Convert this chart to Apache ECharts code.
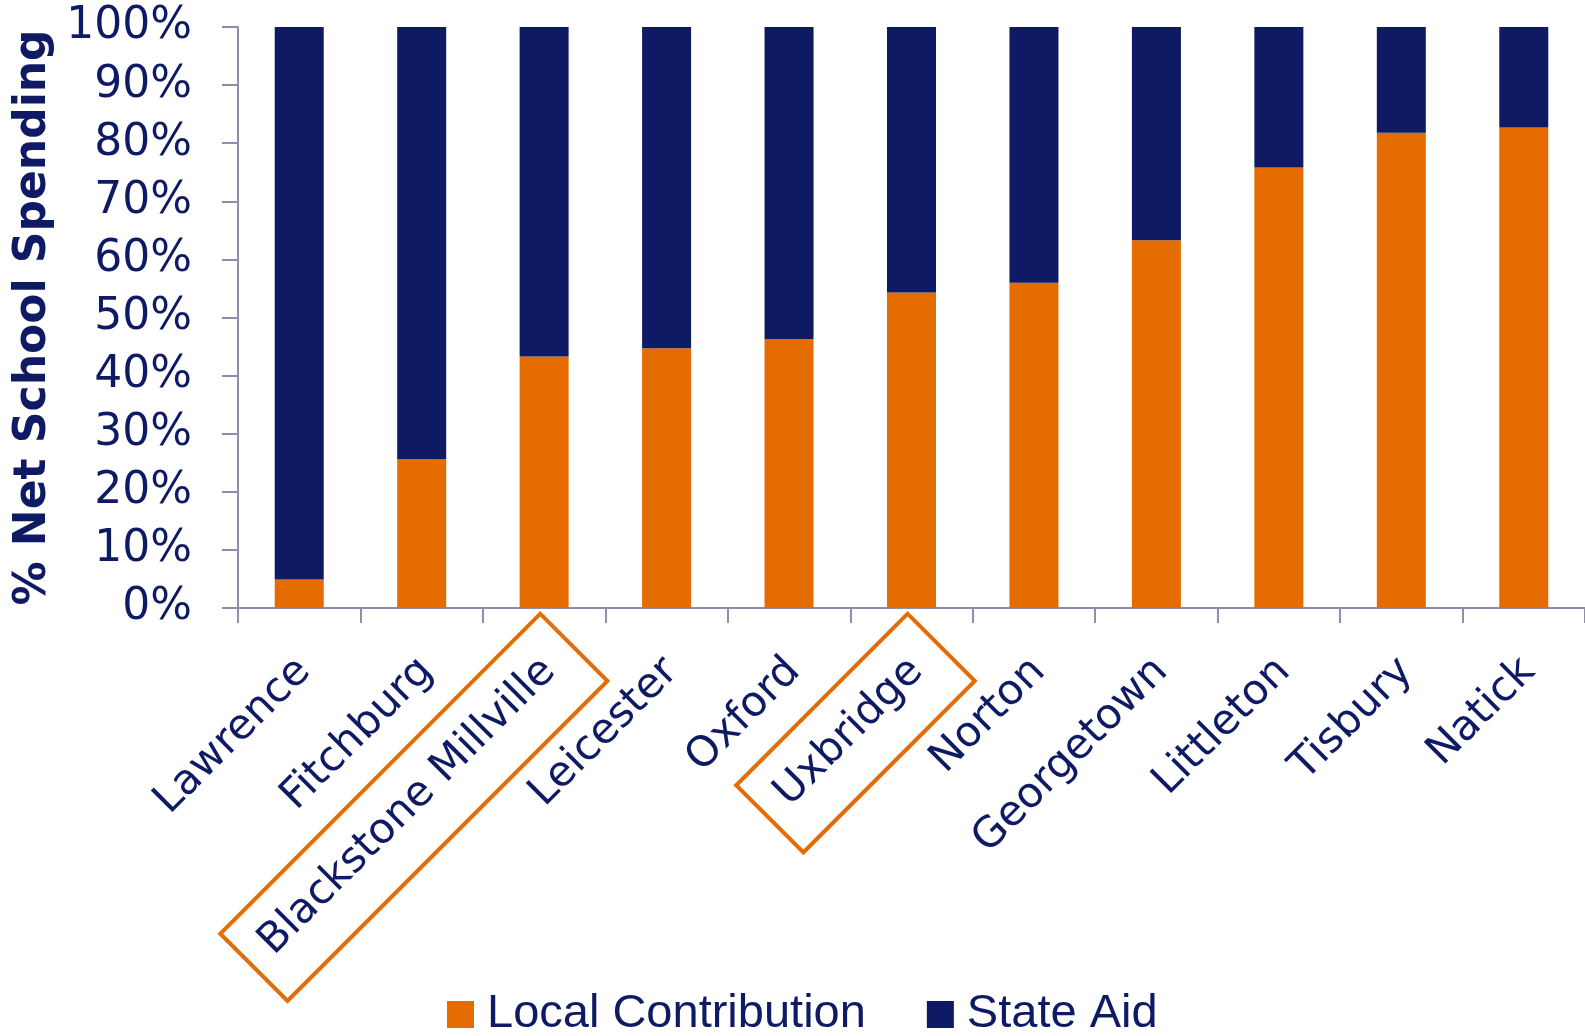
<!DOCTYPE html>
<html>
<head>
<meta charset="utf-8">
<title>% Net School Spending</title>
<script src="https://cdn.jsdelivr.net/npm/echarts@6/dist/echarts.min.js"></script>
<style>
  html, body { margin: 0; padding: 0; background: #ffffff; }
  #chart { width: 1585px; height: 1036px; }
</style>
</head>
<body>
<div id="chart"></div>
<script>
// Districts, ordered by local share of net school spending
const categories = ['Lawrence', 'Fitchburg', 'Blackstone Millville', 'Leicester', 'Oxford',
  'Uxbridge', 'Norton', 'Georgetown', 'Littleton', 'Tisbury', 'Natick'];
const localContribution = [4.9, 25.6, 43.3, 44.7, 46.3, 54.3, 56.0, 63.3, 75.8, 81.8, 82.7];
const stateAid = [95.1, 74.4, 56.7, 55.3, 53.7, 45.7, 44.0, 36.7, 24.2, 18.2, 17.3];
const yTicks = [0, 10, 20, 30, 40, 50, 60, 70, 80, 90, 100];
// Districts whose labels are boxed
const highlighted = ['Blackstone Millville', 'Uxbridge'];

const NAVY = '#0e1a64';
const ORANGE = '#e46c00';
const AXIS = '#8e8ea8';
const LABEL_FONT = 42;
const LABEL_FAMILY = '"DejaVu Sans", Verdana, sans-serif';
const LABEL_MARGIN = 62;
const LABEL_SHIFT = 7;   // label nudged forward along its rotated direction

const chart = echarts.init(document.getElementById('chart'), null, { renderer: 'canvas' });

const option = {
  backgroundColor: '#ffffff',
  animation: false,
  grid: { left: 238, top: 27, width: 1348, height: 581, containLabel: false },
  legend: {
    left: 447,
    top: 991,
    padding: 0,
    icon: 'rect',
    itemWidth: 27,
    itemHeight: 27,
    itemGap: 61,
    textStyle: {
      color: NAVY,
      fontSize: 47,
      fontFamily: '"Liberation Sans", Arial, sans-serif',
      padding: [0, 0, 0, 8]
    },
    data: ['Local Contribution', 'State Aid']
  },
  xAxis: {
    type: 'category',
    data: categories,
    boundaryGap: true,
    axisLine: { show: true, lineStyle: { color: AXIS, width: 2 } },
    axisTick: { show: true, length: 15, lineStyle: { color: AXIS, width: 2 } },
    axisLabel: {
      interval: 0,
      rotate: 45,
      margin: LABEL_MARGIN,
      padding: [0, -LABEL_SHIFT, 0, 0],
      color: NAVY,
      fontSize: LABEL_FONT,
      fontFamily: LABEL_FAMILY
    },
    splitLine: { show: false }
  },
  yAxis: {
    type: 'value',
    min: yTicks[0],
    max: yTicks[yTicks.length - 1],
    interval: yTicks[1] - yTicks[0],
    name: '% Net School Spending',
    nameLocation: 'middle',
    nameGap: 174,
    nameTextStyle: {
      color: NAVY,
      fontSize: 44,
      fontWeight: 'bold',
      fontFamily: LABEL_FAMILY
    },
    axisLine: { show: true, lineStyle: { color: AXIS, width: 2 } },
    axisTick: { show: true, length: 16, lineStyle: { color: AXIS, width: 2 } },
    axisLabel: {
      margin: 46,
      color: NAVY,
      fontSize: 44,
      fontFamily: LABEL_FAMILY,
      formatter: '{value}%'
    },
    splitLine: { show: false }
  },
  series: [
    {
      name: 'Local Contribution',
      type: 'bar',
      stack: 'total',
      barWidth: 49,
      itemStyle: { color: ORANGE },
      data: localContribution
    },
    {
      name: 'State Aid',
      type: 'bar',
      stack: 'total',
      barWidth: 49,
      itemStyle: { color: NAVY },
      data: stateAid
    }
  ]
};

chart.setOption(option);

// Outline boxes around selected rotated category labels
function drawLabelBoxes() {
  const ctx = document.createElement('canvas').getContext('2d');
  ctx.font = LABEL_FONT + 'px ' + LABEL_FAMILY;
  const axisY = chart.convertToPixel({ yAxisIndex: 0 }, 0);
  const ang = Math.PI / 4;
  const ux = Math.cos(ang), uy = -Math.sin(ang);   // along the label
  const vx = Math.sin(ang), vy = Math.cos(ang);    // across the label, downward
  const pad = 26;
  const boxH = 95;
  const across = 5;
  const elements = highlighted.map(function (name) {
    const cx = chart.convertToPixel({ xAxisIndex: 0 }, name);
    const L = ctx.measureText(name).width;
    // the label ends at its anchor and runs back along the rotated direction
    const ex = cx + ux * LABEL_SHIFT, ey = axisY + LABEL_MARGIN + uy * LABEL_SHIFT;
    const along = L / 2 - 4;
    const bx = ex - ux * along + vx * across;
    const by = ey - uy * along + vy * across;
    const W = L + 2 * pad;
    return {
      type: 'rect',
      x: bx,
      y: by,
      rotation: ang,
      shape: { x: -W / 2, y: -boxH / 2, width: W, height: boxH },
      style: { fill: null, stroke: ORANGE, lineWidth: 4 },
      z: 10
    };
  });
  chart.setOption({ graphic: elements });
}
drawLabelBoxes();
</script>
</body>
</html>
